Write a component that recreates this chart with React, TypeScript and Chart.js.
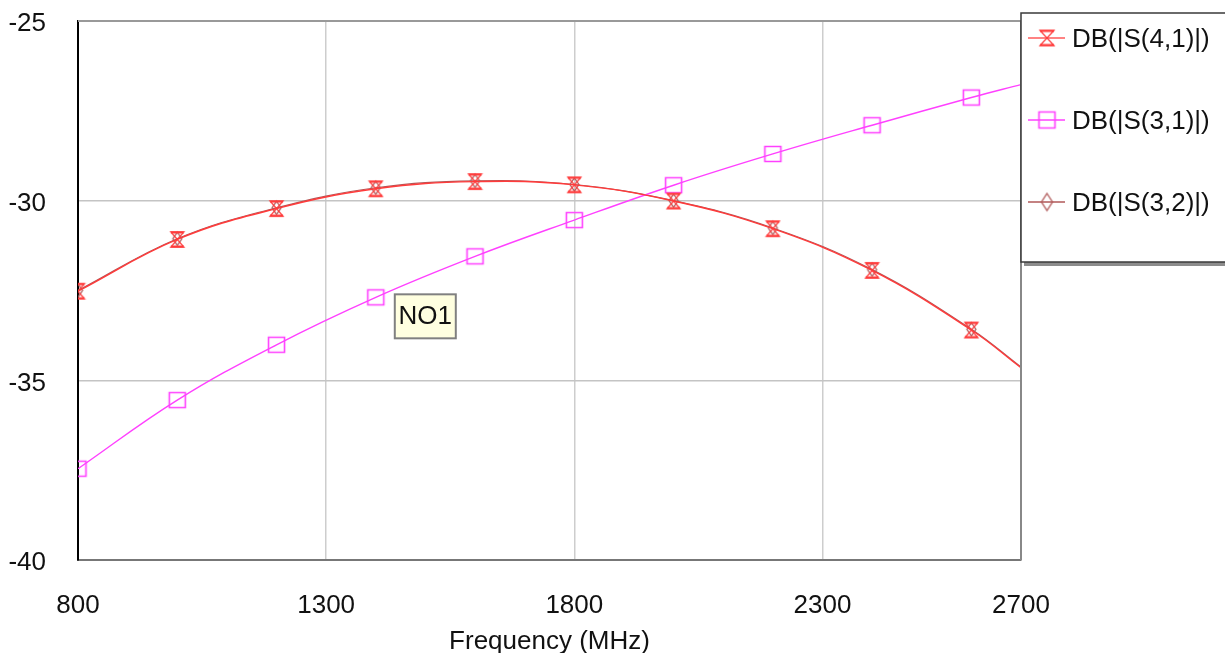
import React, { useEffect, useRef } from "react";
import { Chart, registerables } from "chart.js";

Chart.register(...registerables);

// ---- data ----
const freqMHz = [800, 1000, 1200, 1400, 1600, 1800, 2000, 2200, 2400, 2600, 2700];
const s41 = [-32.52, -31.08, -30.22, -29.67, -29.47, -29.56, -30.01, -30.78, -31.94, -33.6, -34.65];
const s31 = [-37.46, -35.55, -34.01, -32.69, -31.55, -30.54, -29.57, -28.7, -27.9, -27.13, -26.77];
const s32 = [-32.5, -31.06, -30.2, -29.64, -29.45, -29.55, -30.0, -30.76, -31.92, -33.58, -34.63];
const xTickValues = [800, 1300, 1800, 2300, 2700];
const yTickValues = [-40, -35, -30, -25];
const seriesNames = ["DB(|S(4,1)|)", "DB(|S(3,1)|)", "DB(|S(3,2)|)"];
const xTitle = "Frequency (MHz)";
const noteLabel = "NO1";
const noteAnchorIndex = 3; // point on S(3,1) the note belongs to

const RED = "#ff3b3b";
const MAGENTA = "#ff40ff";
const BROWN = "#b05858";
const FONT = '"Liberation Sans", Arial, sans-serif';

function makeMarker(kind: string, color: string, w: number, h: number) {
  const pad = 2;
  const c = document.createElement("canvas");
  c.width = w + pad * 2;
  c.height = h + pad * 2;
  const g = c.getContext("2d")!;
  g.translate(pad, pad);
  g.strokeStyle = color;
  g.lineWidth = 1.3;
  g.beginPath();
  if (kind === "hourglass") {
    g.moveTo(0, 0);
    g.lineTo(w, 0);
    g.lineTo(0, h);
    g.lineTo(w, h);
    g.closePath();
    g.stroke();
    g.lineWidth = 2.2;
    g.beginPath();
    g.moveTo(0, 0.5);
    g.lineTo(w, 0.5);
    g.moveTo(0, h - 0.5);
    g.lineTo(w, h - 0.5);
    g.stroke();
  } else if (kind === "square") {
    g.rect(0.5, 0.5, w - 1, h - 1);
    g.lineWidth = 1.6;
    g.stroke();
  } else {
    g.moveTo(w / 2, 0);
    g.lineTo(w, h / 2);
    g.lineTo(w / 2, h);
    g.lineTo(0, h / 2);
    g.closePath();
    g.stroke();
  }
  return c;
}

export default function App() {
  const ref = useRef<HTMLCanvasElement>(null);

  useEffect(() => {
    if (!ref.current) return;
    const mkHour = makeMarker("hourglass", RED, 13, 15);
    const mkSq = makeMarker("square", MAGENTA, 17, 16);
    const mkDia = makeMarker("diamond", BROWN, 9, 13);
    const last = freqMHz.length - 1;

    const toXY = (ys: number[]) => freqMHz.map((x, i) => ({ x, y: ys[i] }));
    const radius = (ctx: any) => (ctx.dataIndex === last ? 0 : 5);

    const overlay = {
      id: "overlay",
      afterDraw(chart: any) {
        const { ctx, chartArea, scales } = chart;
        ctx.save();
        // top and right frame
        ctx.strokeStyle = "#999";
        ctx.lineWidth = 2;
        ctx.beginPath();
        ctx.moveTo(chartArea.left, chartArea.top);
        ctx.lineTo(chartArea.right, chartArea.top);
        ctx.stroke();
        ctx.strokeStyle = "#888";
        ctx.beginPath();
        ctx.moveTo(chartArea.right, chartArea.top);
        ctx.lineTo(chartArea.right, chartArea.bottom);
        ctx.stroke();

        // note box
        const px = scales.x.getPixelForValue(freqMHz[noteAnchorIndex]);
        const py = scales.y.getPixelForValue(s31[noteAnchorIndex]);
        const bx = px + 19, by = py - 3, bw = 61, bh = 44;
        ctx.fillStyle = "#ffffe0";
        ctx.fillRect(bx, by, bw, bh);
        ctx.strokeStyle = "#808080";
        ctx.lineWidth = 2;
        ctx.strokeRect(bx, by, bw, bh);
        ctx.fillStyle = "#111";
        ctx.font = "26px " + FONT;
        ctx.textAlign = "center";
        ctx.textBaseline = "middle";
        ctx.fillText(noteLabel, bx + bw / 2, by + bh / 2 + 1);

        // legend box
        const lx = chartArea.right, ly = 13, lw = 260, lh = 249;
        ctx.fillStyle = "#8c8c8c";
        ctx.fillRect(lx + 3, ly + 4, lw, lh);
        ctx.fillStyle = "#ffffff";
        ctx.fillRect(lx, ly, lw, lh);
        ctx.strokeStyle = "#3a3a3a";
        ctx.lineWidth = 1.5;
        ctx.strokeRect(lx, ly, lw, lh);

        const items = [
          { color: "#ff5a5a", img: makeMarker("hourglass", RED, 14, 15) },
          { color: MAGENTA, img: makeMarker("square", MAGENTA, 17, 17) },
          { color: BROWN, img: makeMarker("diamond", BROWN, 11, 17) },
        ];
        const rows = [38, 120, 202];
        items.forEach((it, i) => {
          const y = rows[i];
          ctx.strokeStyle = it.color;
          ctx.lineWidth = 1.3;
          ctx.beginPath();
          ctx.moveTo(lx + 7, y);
          ctx.lineTo(lx + 44, y);
          ctx.stroke();
          ctx.drawImage(it.img, lx + 26 - it.img.width / 2, y - it.img.height / 2);
          ctx.fillStyle = "#111";
          ctx.font = "26px " + FONT;
          ctx.textAlign = "left";
          ctx.textBaseline = "middle";
          ctx.fillText(seriesNames[i], lx + 51, y + 2);
        });
        ctx.restore();
      },
    };

    const chart = new Chart(ref.current, {
      type: "line",
      data: {
        datasets: [
          {
            label: seriesNames[0],
            data: toXY(s41),
            borderColor: RED,
            borderWidth: 1.4,
            pointStyle: mkHour as any,
            pointRadius: radius as any,
            tension: 0.4,
          },
          {
            label: seriesNames[1],
            data: toXY(s31),
            borderColor: MAGENTA,
            borderWidth: 1.4,
            pointStyle: mkSq as any,
            pointRadius: radius as any,
            tension: 0.4,
          },
          {
            label: seriesNames[2],
            data: toXY(s32),
            borderColor: BROWN,
            borderWidth: 1.2,
            pointStyle: mkDia as any,
            pointRadius: radius as any,
            tension: 0.4,
          },
        ],
      },
      options: {
        animation: false,
        responsive: true,
        maintainAspectRatio: false,
        layout: { padding: { left: 0, top: 21, right: 204, bottom: 0 } },
        plugins: { legend: { display: false }, tooltip: { enabled: false } },
        scales: {
          x: {
            type: "linear",
            min: 800,
            max: 2700,
            afterBuildTicks: (s: any) => {
              s.ticks = xTickValues.map((v) => ({ value: v }));
            },
            afterFit: (s: any) => {
              s.height = 93;
              s.paddingLeft = 0;
              s.paddingRight = 0;
            },
            ticks: {
              padding: 30,
              color: "#111",
              font: { family: FONT, size: 26 },
              maxRotation: 0,
              autoSkip: false,
              callback: (v: any) => String(v),
            },
            grid: {
              color: "#cdcdcd",
              lineWidth: 1.5,
              drawTicks: false,
            },
            border: { color: "#777", width: 2 },
            title: {
              display: true,
              text: xTitle,
              color: "#111",
              font: { family: FONT, size: 26 },
              padding: { top: 0, bottom: -4 },
            },
          },
          y: {
            type: "linear",
            min: -40,
            max: -25,
            afterBuildTicks: (s: any) => {
              s.ticks = yTickValues.map((v) => ({ value: v }));
            },
            afterFit: (s: any) => {
              s.width = 78;
              s.paddingTop = 0;
              s.paddingBottom = 0;
            },
            ticks: {
              padding: 32,
              labelOffset: 3,
              color: "#111",
              font: { family: FONT, size: 26 },
              callback: (v: any) => String(v),
            },
            grid: {
              color: "#c4c4c4",
              lineWidth: 1.5,
              drawTicks: false,
            },
            border: { color: "#000", width: 2 },
          },
        },
      },
      plugins: [overlay],
    } as any);

    return () => chart.destroy();
  }, []);

  return (
    <div style={{ position: "fixed", left: 0, top: 0, width: 1225, height: 653, background: "#fff" }}>
      <canvas ref={ref} />
    </div>
  );
}
